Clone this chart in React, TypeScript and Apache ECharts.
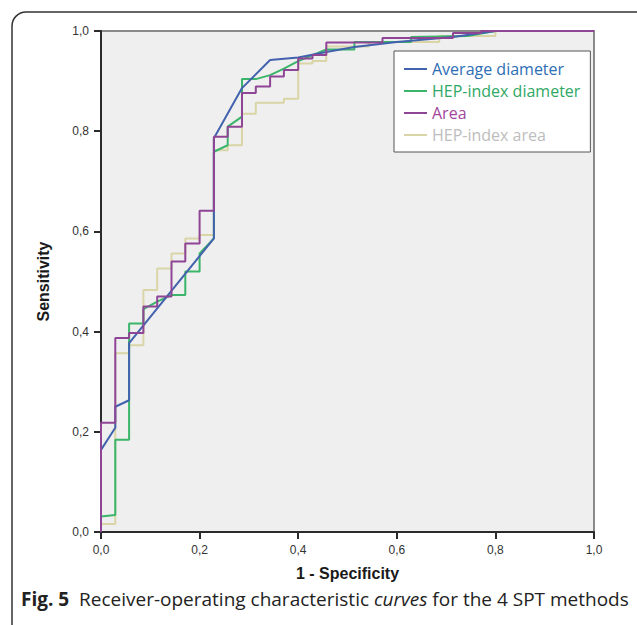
import React, { useEffect, useRef } from "react";
import * as echarts from "echarts";

const seriesNames = ["Average diameter", "HEP-index diameter", "Area", "HEP-index area"];
const lineColors = ["#4262ad", "#3bb56a", "#8f4596", "#d9d5a7"];
const legendTextColors = ["#2e6eb5", "#2fa865", "#a2479c", "#bdbdbd"];
const tickValues = [0, 0.2, 0.4, 0.6, 0.8, 1.0];

const averageDiameter: number[][] = [
  [0, 0], [0, 0.164], [0.029, 0.208], [0.029, 0.25], [0.057, 0.263], [0.057, 0.377],
  [0.229, 0.586], [0.229, 0.786], [0.286, 0.886], [0.343, 0.942], [0.4, 0.947],
  [0.457, 0.958], [0.514, 0.968], [0.6, 0.978], [0.714, 0.988], [0.8, 1], [1, 1],
];

const hepIndexDiameter: number[][] = [
  [0, 0], [0, 0.031], [0.029, 0.034], [0.029, 0.184], [0.057, 0.184], [0.057, 0.416],
  [0.086, 0.416], [0.086, 0.445], [0.114, 0.46], [0.143, 0.473], [0.171, 0.473],
  [0.171, 0.52], [0.2, 0.52], [0.2, 0.556], [0.229, 0.586], [0.229, 0.759],
  [0.257, 0.772], [0.257, 0.809], [0.286, 0.829], [0.286, 0.904], [0.314, 0.904],
  [0.343, 0.912], [0.371, 0.925], [0.4, 0.94], [0.457, 0.963], [0.514, 0.963],
  [0.514, 0.978], [0.629, 0.978], [0.629, 0.988], [0.743, 0.99], [0.8, 1], [1, 1],
];

const area: number[][] = [
  [0, 0], [0, 0.218], [0.029, 0.218], [0.029, 0.387], [0.057, 0.387], [0.057, 0.397],
  [0.086, 0.397], [0.086, 0.45], [0.114, 0.45], [0.114, 0.47], [0.143, 0.47],
  [0.143, 0.54], [0.171, 0.54], [0.171, 0.576], [0.2, 0.576], [0.2, 0.641],
  [0.229, 0.641], [0.229, 0.789], [0.257, 0.789], [0.257, 0.809], [0.286, 0.809],
  [0.286, 0.876], [0.314, 0.876], [0.314, 0.889], [0.343, 0.889], [0.343, 0.909],
  [0.371, 0.909], [0.371, 0.922], [0.4, 0.922], [0.4, 0.945], [0.429, 0.945],
  [0.429, 0.952], [0.457, 0.952], [0.457, 0.977], [0.571, 0.977], [0.571, 0.986],
  [0.714, 0.986], [0.714, 0.996], [0.771, 0.996], [0.771, 1], [1, 1],
];

const hepIndexArea: number[][] = [
  [0, 0], [0, 0.016], [0.029, 0.016], [0.029, 0.357], [0.057, 0.357], [0.057, 0.373],
  [0.086, 0.373], [0.086, 0.483], [0.114, 0.483], [0.114, 0.526], [0.143, 0.526],
  [0.143, 0.556], [0.171, 0.556], [0.171, 0.586], [0.2, 0.586], [0.2, 0.593],
  [0.229, 0.593], [0.229, 0.762], [0.257, 0.762], [0.257, 0.772], [0.286, 0.772],
  [0.286, 0.835], [0.314, 0.835], [0.314, 0.857], [0.371, 0.857], [0.371, 0.865],
  [0.4, 0.865], [0.4, 0.935], [0.429, 0.935], [0.429, 0.94], [0.457, 0.94],
  [0.457, 0.969], [0.543, 0.969], [0.543, 0.978], [0.686, 0.978], [0.686, 0.99],
  [0.8, 0.99], [0.8, 1], [1, 1],
];

const seriesData = [averageDiameter, hepIndexDiameter, area, hepIndexArea];
const seriesZ = [4, 3, 5, 2];

const fmt = (v: number) => v.toFixed(1).replace(".", ",");

export default function App() {
  const ref = useRef<HTMLDivElement>(null);
  useEffect(() => {
    if (!ref.current) return;
    const chart = echarts.init(ref.current, null, { renderer: "svg" });
    const axisCommon = {
      type: "value" as const,
      min: 0,
      max: 1,
      interval: 0.2,
      splitLine: { show: false },
      axisLine: { show: true, lineStyle: { color: "#2b2b2b", width: 2 } },
      axisTick: { show: true, length: 7, lineStyle: { color: "#2b2b2b", width: 2 } },
      axisLabel: {
        color: "#333",
        fontFamily: "Liberation Sans, Arial, sans-serif",
        fontSize: 12,
        formatter: (v: number) => (tickValues.some((t) => Math.abs(t - v) < 1e-6) ? fmt(v) : ""),
      },
      nameLocation: "middle" as const,
      nameTextStyle: {
        color: "#1a1a1a",
        fontFamily: "Liberation Sans, Arial, sans-serif",
        fontSize: 16,
        fontWeight: "bold" as const,
      },
    };
    chart.setOption({
      animation: false,
      grid: {
        left: 101,
        top: 31,
        width: 493,
        height: 501,
        show: true,
        backgroundColor: "#efefef",
        borderColor: "#8a8a8a",
        borderWidth: 2,
      },
      xAxis: {
        ...axisCommon,
        name: "1 - Specificity",
        nameGap: 33,
        axisLabel: { ...axisCommon.axisLabel, margin: 12 },
      },
      yAxis: {
        ...axisCommon,
        name: "Sensitivity",
        nameGap: 50,
        axisLabel: { ...axisCommon.axisLabel, margin: 12 },
      },
      legend: {
        orient: "vertical",
        left: 394,
        top: 51,
        width: 196,
        height: 99,
        backgroundColor: "#ffffff",
        borderColor: "#555",
        borderWidth: 1,
        borderRadius: 0,
        padding: [9, 10, 8, 10],
        itemGap: 4,
        itemWidth: 23,
        itemHeight: 2,
        icon: "rect",
        textStyle: { fontFamily: "Open Sans, sans-serif", fontSize: 16, lineHeight: 18 },
        data: seriesNames.map((n, i) => ({ name: n, textStyle: { color: legendTextColors[i] } })),
      },
      series: seriesNames.map((n, i) => ({
        name: n,
        type: "line",
        data: seriesData[i],
        symbol: "none",
        z: seriesZ[i],
        color: lineColors[i],
        lineStyle: { color: lineColors[i], width: 2 },
      })),
      graphic: [
        {
          type: "rect",
          shape: { x: 12, y: 12, width: 660, height: 700, r: 14 },
          style: { fill: "none", stroke: "#333", lineWidth: 1.5 },
          silent: true,
          z: -1,
        },
        {
          type: "text",
          left: 21,
          top: 588,
          style: {
            text: "{b|Fig. 5}  Receiver-operating characteristic {i|curves} for the 4 SPT methods",
            fontFamily: "Open Sans, sans-serif",
            fontSize: 19,
            lineHeight: 22,
            fill: "#222",
            rich: {
              b: { fontFamily: "Open Sans, sans-serif", fontSize: 19, lineHeight: 22, fontWeight: "bold", fill: "#222" },
              i: { fontFamily: "Open Sans, sans-serif", fontSize: 19, lineHeight: 22, fontStyle: "italic", fill: "#222" },
            },
          },
        },
      ],
    });
    return () => chart.dispose();
  }, []);
  return (
    <div
      ref={ref}
      style={{ position: "fixed", left: 0, top: 0, width: 637, height: 625, background: "#fff" }}
    />
  );
}
